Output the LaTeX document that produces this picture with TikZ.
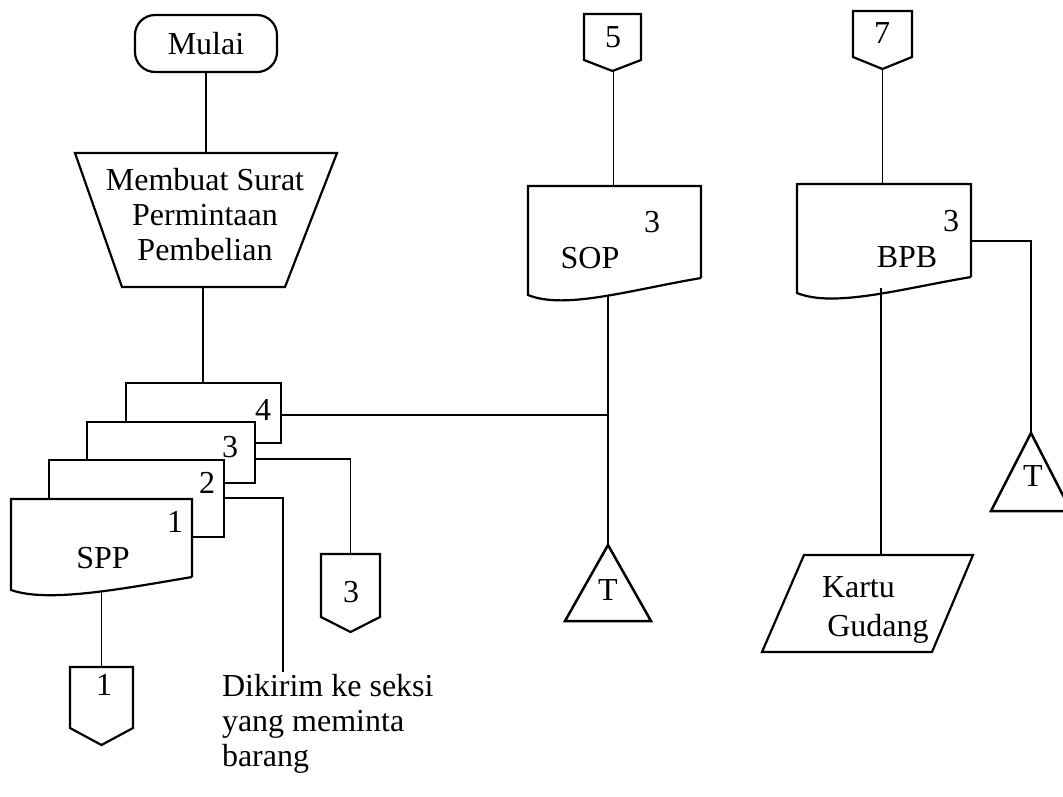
\documentclass[tikz,border=0pt]{standalone}
\usepackage{fontspec}
\setmainfont{Liberation Serif}
\usetikzlibrary{calc}
\tikzset{
  conn/.style={line width=1.7pt},
  shp/.style={draw, line width=2.2pt, fill=white, line join=miter},
  trishp/.style={draw, line width=2.5pt, fill=white, line join=miter},
  frame/.style={draw=none, inner sep=0pt, outer sep=0pt},
  lbl/.style={inner sep=0pt, outer sep=0pt, font=\fontsize{32}{35}\selectfont},
}
\newcommand\docoutline[3]{%
  \draw[shp] (#1.south east) -- (#1.north east) -- (#1.north west) -- ($(#1.south west)+(0,#2)$) .. controls +(37,#3) and +(-71,12) .. (#1.south east);}
\newcommand\offpage[2]{%
  \coordinate (#1tip) at ($(#1.south)+(0,#2)$);
  \draw[shp] (#1.north west) -- (#1.north east) -- (#1.south east) -- (#1tip) -- (#1.south west) -- cycle;}
\newcommand\tri[1]{\draw[trishp] (#1.south west) -- (#1.north) -- (#1.south east) -- cycle;}
\begin{document}
\begin{tikzpicture}[x=1pt,y=-1pt]
\useasboundingbox (0,0) rectangle (1063,796);
\clip (0,0) rectangle (1063,796);

% ---- frames of shapes ----
\node[draw, line width=2.2pt, rounded corners=20pt, minimum width=142, minimum height=57, lbl] (mulai) at (206,43.5) {Mulai};
\node[frame, minimum width=262, minimum height=134] (trap) at (206,220) {};
\node[frame, anchor=north west, minimum width=155, minimum height=60] (d4) at (126,383) {};
\node[frame, anchor=north west, minimum width=168, minimum height=61] (d3) at (87,422) {};
\node[frame, anchor=north west, minimum width=175, minimum height=77] (d2) at (49,460) {};
\node[frame, anchor=north west, minimum width=181, minimum height=78] (d1) at (11,499) {};
\node[frame, anchor=north west, minimum width=173, minimum height=92] (sop) at (528,186) {};
\node[frame, anchor=north west, minimum width=174, minimum height=93] (bpb) at (797,184) {};
\node[frame, anchor=north west, minimum width=57, minimum height=46] (c5) at (584,14) {};
\node[frame, anchor=north west, minimum width=59, minimum height=46] (c7) at (853,11) {};
\node[frame, anchor=north west, minimum width=59, minimum height=63] (c3) at (321,554) {};
\node[frame, anchor=north west, minimum width=63, minimum height=61] (c1) at (70,667) {};
\node[frame, minimum width=86, minimum height=76] (t1) at (608,583) {};
\node[frame, minimum width=80, minimum height=78] (t2) at (1031,472) {};
\node[frame, minimum width=211, minimum height=97] (kartu) at (867.5,603.5) {};

% ---- connectors (drawn first, shapes cover them) ----
\coordinate (c5tip) at ($(c5.south)+(1,11)$);
\coordinate (c7tip) at ($(c7.south)+(0,12)$);
\coordinate (trapout) at ($(trap.south)+(-3,0)$);
\coordinate (d4out) at ($(d4.north east)+(0,32)$);
\coordinate (d3out) at ($(d3.north east)+(0,37)$);
\coordinate (d2out) at ($(d2.north east)+(0,38)$);
\coordinate (d2end) at (283,672);
\coordinate (bpbout2) at ($(bpb.north east)+(0,57)$);
\coordinate (bpbout) at (881,288);

\draw[conn] (mulai.south) -- (mulai.south |- trap.north);
\draw[conn] (trapout) -- (trapout |- d4.north);
\draw[conn] (d4out) -- (d4out -| t1.north);
\draw[conn] (t1.north) -- (t1.north |- sop.south);
\draw[conn] (d3out) -| (c3.north);
\draw[conn] (d2out) -| (d2end);
\draw[conn] (c1.north) -- (c1.north |- d1.south);
\draw[conn] (c5tip) -- (c5tip |- sop.north);
\draw[conn] (c7tip) -- (c7tip |- bpb.north);
\draw[conn] (bpbout2) -| (t2.north);

% ---- shapes ----
\draw[shp] (trap.north west) -- (trap.north east) -- ($(trap.south east)+(-52,0)$) -- ($(trap.south west)+(47,0)$) -- cycle;
\draw[shp] (d4.south east) -- (d4.north east) -- (d4.north west) -- (d4.south west) -- cycle;
\draw[shp] (d3.south east) -- (d3.north east) -- (d3.north west) -- (d3.south west) -- cycle;
\draw[shp] (d2.south east) -- (d2.north east) -- (d2.north west) -- (d2.south west) -- cycle;
\docoutline{d1}{13}{13}
\docoutline{sop}{17}{15}
\docoutline{bpb}{16}{15}
\offpage{c5}{11}
\offpage{c7}{12}
\offpage{c3}{15}
\offpage{c1}{17}
\tri{t1}
\tri{t2}
\draw[shp] ($(kartu.north west)+(42,0)$) -- (kartu.north east) -- ($(kartu.south east)+(-41,0)$) -- (kartu.south west) -- cycle;
\draw[conn] (bpbout) -- (bpbout |- kartu.north);

% ---- texts ----
\node[lbl, align=center] (traptext) at (205,215) {Membuat Surat\\Permintaan\\Pembelian};
\node[lbl] (l4) at (263,410) {4};
\node[lbl] (l3) at (230,447) {3};
\node[lbl] (l2) at (207,483) {2};
\node[lbl] (l1) at (175,522) {1};
\node[lbl] (lspp) at (103,558) {SPP};
\node[lbl] (lsop) at (590,258) {SOP};
\node[lbl] (lsop3) at (652,222) {3};
\node[lbl] (lbpb) at (907,257) {BPB};
\node[lbl] (lbpb3) at (951,221) {3};
\node[lbl] (lc5) at (613,37) {5};
\node[lbl] (lc7) at (882,33) {7};
\node[lbl] (lc3) at (351,592) {3};
\node[lbl] (lc1) at (104,685) {1};
\node[lbl] (lt1) at (608,590) {T};
\node[lbl] (lt2) at (1033,476) {T};
\node[lbl, align=left, anchor=north west] (lkartu) at (822,577) {Kartu\\[4pt]\,Gudang};
\node[lbl, align=left, anchor=north west] (note) at (222,674) {Dikirim ke seksi\\yang meminta\\barang};
\end{tikzpicture}
\end{document}
